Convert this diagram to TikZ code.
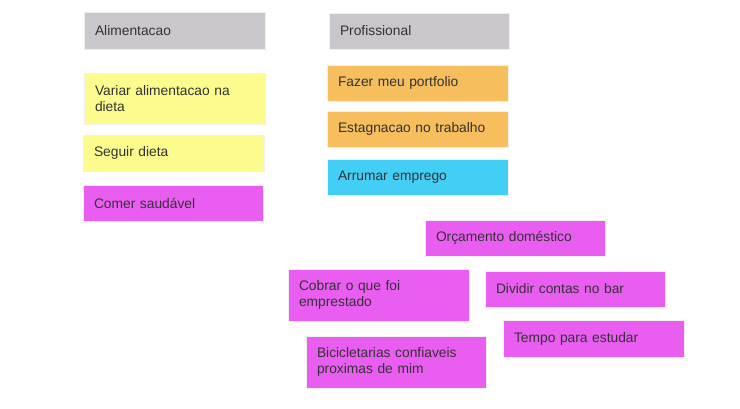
\documentclass[tikz,border=0pt]{standalone}
\usepackage{fontspec}
\setmainfont{Liberation Sans}
\definecolor{cgray}{HTML}{C9C7CB}
\definecolor{cyellow}{HTML}{FBFB8E}
\definecolor{corange}{HTML}{F6BE5C}
\definecolor{ccyan}{HTML}{42CEF5}
\definecolor{cmag}{HTML}{E95DF1}
\definecolor{ctext}{HTML}{333333}
\begin{document}
\begin{tikzpicture}[x=1pt,y=-1pt,
  card/.style={rectangle, draw=black!6, line width=0.6pt, inner xsep=11pt, inner ysep=0pt,
    align=left, text=ctext, font=\fontsize{13.8}{16}\selectfont, anchor=center},
  w181/.style={minimum width=181pt, text width=159pt},
  w180/.style={minimum width=180pt, text width=158pt}]
\useasboundingbox (0,0) rectangle (740,408);
\fill[white] (0,0) rectangle (740,408);
\node[card,w181,fill=cgray,minimum height=37pt] (alim) at (174.5,30.5) {Alimentacao};
\node[card,w180,fill=cgray,minimum height=36pt] (prof) at (419,31) {Profissional};
\node[card,w181,fill=cyellow,minimum height=51pt] (variar) at (174.5,98.5) {Variar alimentacao na\\dieta};
\node[card,w181,fill=cyellow,minimum height=36pt] (seguir) at (173.5,153) {Seguir dieta};
\node[card,w180,fill=cmag,minimum height=36pt] (comer) at (173,203) {Comer saudável};
\node[card,w181,fill=corange,minimum height=36pt] (fazer) at (417.5,83) {Fazer meu portfolio};
\node[card,w181,fill=corange,minimum height=36pt] (estag) at (417.5,129) {Estagnacao no trabalho};
\node[card,w181,fill=ccyan,minimum height=36pt] (arrumar) at (417.5,177) {Arrumar emprego};
\node[card,w180,fill=cmag,minimum height=36pt] (orc) at (515,238) {Orçamento doméstico};
\node[card,w181,fill=cmag,minimum height=52pt] (cobrar) at (378.5,295) {Cobrar o que foi\\emprestado};
\node[card,w180,fill=cmag,minimum height=36pt] (dividir) at (575,289) {Dividir contas no bar};
\node[card,w181,fill=cmag,minimum height=37pt] (tempo) at (593.5,338.5) {Tempo para estudar};
\node[card,w180,fill=cmag,minimum height=52pt] (bici) at (396,362) {Bicicletarias confiaveis\\proximas de mim};
\end{tikzpicture}
\end{document}
